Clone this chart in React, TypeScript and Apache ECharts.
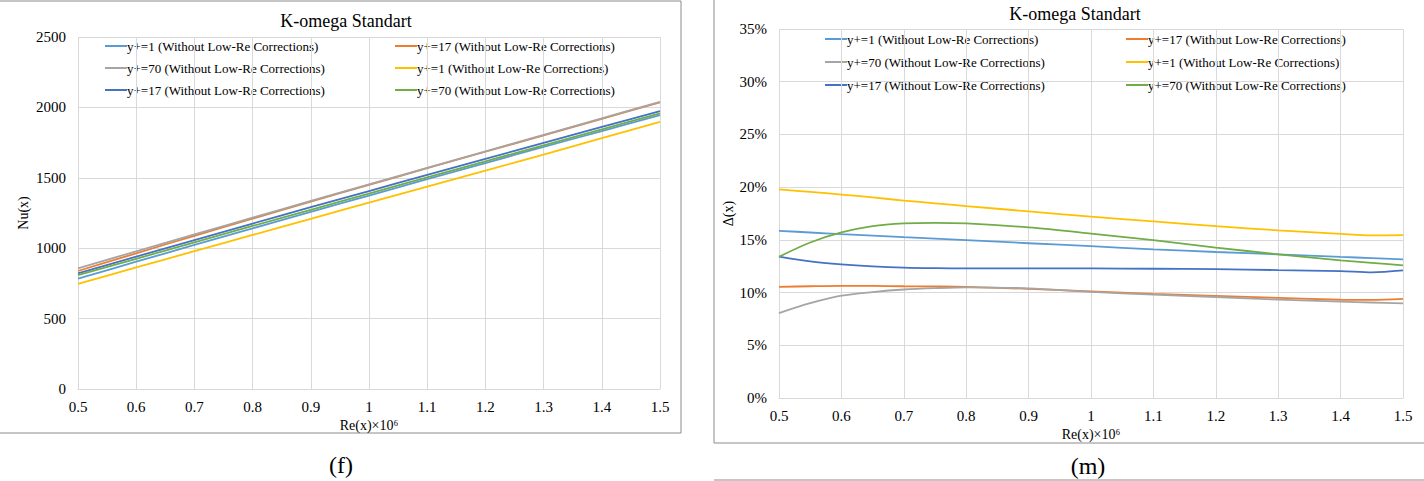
import React, { useEffect, useRef } from 'react';
import * as echarts from 'echarts';

// Re(x)×10^6 sample points
const reNu = [0.5, 0.6, 0.7, 0.8, 0.9, 1.0, 1.1, 1.2, 1.3, 1.4, 1.5];
const reDelta = [0.5, 0.55, 0.6, 0.65, 0.7, 0.75, 0.8, 0.9, 1.0, 1.1, 1.2, 1.3, 1.4, 1.45, 1.5];

const seriesNames = [
  'y+=1 (Without Low-Re Corrections)',
  'y+=17 (Without Low-Re Corrections)',
  'y+=70 (Without Low-Re Corrections)',
  'y+=1 (Without Low-Re Corrections)',
  'y+=17 (Without Low-Re Corrections)',
  'y+=70 (Without Low-Re Corrections)',
];
const seriesColors = ['#5B9BD5', '#ED7D31', '#A5A5A5', '#FFC000', '#4472C4', '#70AD47'];

// Nu(x)
const nuY1a = [784, 904, 1023, 1141, 1258, 1374, 1490, 1605, 1719, 1832, 1945];
const nuY17a = [838, 964, 1088, 1210, 1331, 1450, 1568, 1685, 1802, 1919, 2036];
const nuY70a = [857, 978, 1098, 1217, 1336, 1454, 1571, 1688, 1805, 1922, 2040];
const nuY1b = [746, 863, 979, 1094, 1209, 1323, 1437, 1551, 1665, 1782, 1898];
const nuY17b = [822, 940, 1058, 1175, 1291, 1406, 1521, 1635, 1748, 1861, 1974];
const nuY70b = [808, 925, 1042, 1158, 1273, 1388, 1503, 1617, 1731, 1844, 1957];

// Δ(x), %
const dY1a = [15.86, 15.7, 15.54, 15.4, 15.25, 15.11, 14.97, 14.68, 14.4, 14.1, 13.85, 13.63, 13.38, 13.27, 13.15];
const dY17a = [10.54, 10.6, 10.64, 10.63, 10.6, 10.58, 10.54, 10.35, 10.12, 9.87, 9.68, 9.5, 9.32, 9.3, 9.4];
const dY70a = [8.06, 9.0, 9.71, 10.05, 10.29, 10.42, 10.5, 10.4, 10.06, 9.8, 9.58, 9.33, 9.14, 9.06, 8.98];
const dY1b = [19.78, 19.55, 19.3, 19.02, 18.73, 18.47, 18.2, 17.7, 17.2, 16.75, 16.3, 15.9, 15.57, 15.42, 15.45];
const dY17b = [13.4, 12.95, 12.67, 12.48, 12.36, 12.31, 12.29, 12.29, 12.29, 12.26, 12.23, 12.13, 12.04, 11.92, 12.1];
const dY70b = [13.4, 14.75, 15.7, 16.3, 16.56, 16.62, 16.56, 16.18, 15.6, 14.97, 14.27, 13.63, 13.06, 12.82, 12.58];

const nuSeries = [nuY1a, nuY17a, nuY70a, nuY1b, nuY17b, nuY70b];
const deltaSeries = [dY1a, dY17a, dY70a, dY1b, dY17b, dY70b];

const FONT = 'Liberation Serif';
const GRID = '#d9d9d9';

const legendBlock = (cols: number[], rows: number[], lineLen: number) =>
  seriesNames.flatMap((name, i) => {
    const x = cols[i % 2];
    const y = rows[Math.floor(i / 2)];
    return [
      {
        type: 'line',
        shape: { x1: x, y1: y, x2: x + lineLen, y2: y },
        style: { stroke: seriesColors[i], lineWidth: 2 },
        silent: true,
      },
      {
        type: 'text',
        x: x + lineLen,
        y,
        style: {
          text: name,
          font: `13px ${FONT}`,
          fill: '#000',
          verticalAlign: 'middle',
        },
        silent: true,
      },
    ];
  });

const App: React.FC = () => {
  const chartRef = useRef<HTMLDivElement>(null);

  useEffect(() => {
    document.body.style.margin = '0';
    if (!chartRef.current) return;
    const chart = echarts.init(chartRef.current, null, { renderer: 'svg' });

    const xAxisCommon = (grid: number, labelMargin: number, nameGap: number) => ({
      type: 'value' as const,
      gridIndex: grid,
      min: 0.5,
      max: 1.5,
      interval: 0.1,
      name: 'Re(x)×10⁶',
      nameLocation: 'middle' as const,
      nameGap,
      nameTextStyle: { fontFamily: FONT, fontSize: 14, color: '#000' },
      axisLine: { show: true, lineStyle: { color: GRID, width: 1 } },
      axisTick: { show: false },
      axisLabel: { fontFamily: FONT, fontSize: 15, color: '#000', margin: labelMargin },
      splitLine: { show: true, lineStyle: { color: GRID, width: 1 } },
    });

    const option: echarts.EChartsOption = {
      animation: false,
      backgroundColor: '#fff',
      title: [
        {
          text: 'K-omega Standart',
          left: 341,
          top: 7,
          textAlign: 'center',
          textStyle: { fontFamily: FONT, fontSize: 18, fontWeight: 'normal', color: '#000' },
        },
        {
          text: 'K-omega Standart',
          left: 1070,
          top: 0,
          textAlign: 'center',
          textStyle: { fontFamily: FONT, fontSize: 18, fontWeight: 'normal', color: '#000' },
        },
      ],
      grid: [
        { left: 78, top: 37, width: 582, height: 352 },
        { left: 779, top: 29, width: 624, height: 369 },
      ],
      xAxis: [xAxisCommon(0, 10, 26), xAxisCommon(1, 10, 24)],
      yAxis: [
        {
          type: 'value',
          gridIndex: 0,
          min: 0,
          max: 2500,
          interval: 500,
          name: 'Nu(x)',
          nameLocation: 'middle',
          nameGap: 48,
          nameTextStyle: { fontFamily: FONT, fontSize: 14, color: '#000' },
          axisLine: { show: false },
          axisTick: { show: false },
          axisLabel: {
            fontFamily: FONT,
            fontSize: 15,
            color: '#000',
            margin: 12,
            formatter: (v: number) => String(v),
          },
          splitLine: { show: true, lineStyle: { color: GRID, width: 1 } },
        },
        {
          type: 'value',
          gridIndex: 1,
          min: 0,
          max: 35,
          interval: 5,
          name: 'Δ(x)',
          nameLocation: 'middle',
          nameGap: 32,
          nameTextStyle: { fontFamily: FONT, fontSize: 14, color: '#000' },
          axisLine: { show: false },
          axisTick: { show: false },
          axisLabel: { fontFamily: FONT, fontSize: 15, color: '#000', margin: 12, formatter: '{value}%' },
          splitLine: { show: true, lineStyle: { color: GRID, width: 1 } },
        },
      ],
      series: [
        ...nuSeries.map((vals, i) => ({
          name: seriesNames[i],
          type: 'line' as const,
          xAxisIndex: 0,
          yAxisIndex: 0,
          data: reNu.map((x, j) => [x, vals[j]]),
          showSymbol: false,
          smooth: 0.3,
          lineStyle: { color: seriesColors[i], width: 1.8 },
          itemStyle: { color: seriesColors[i] },
        })),
        ...deltaSeries.map((vals, i) => ({
          name: seriesNames[i],
          type: 'line' as const,
          xAxisIndex: 1,
          yAxisIndex: 1,
          data: reDelta.map((x, j) => [x, vals[j]]),
          showSymbol: false,
          smooth: 0.3,
          lineStyle: { color: seriesColors[i], width: 1.8 },
          itemStyle: { color: seriesColors[i] },
        })),
      ],
      graphic: [
        {
          type: 'rect',
          shape: { x: -2, y: 1, width: 683, height: 432 },
          style: { fill: 'none', stroke: '#8c8c8c', lineWidth: 1 },
          silent: true,
        },
        {
          type: 'rect',
          shape: { x: 714, y: -2, width: 720, height: 445 },
          style: { fill: 'none', stroke: '#8c8c8c', lineWidth: 1 },
          silent: true,
        },
        {
          type: 'line',
          shape: { x1: 714, y1: 480, x2: 1424, y2: 480 },
          style: { stroke: '#8c8c8c', lineWidth: 1 },
          silent: true,
        },
        {
          type: 'text',
          x: 341,
          y: 465,
          style: { text: '(f)', font: `24px ${FONT}`, fill: '#000', align: 'center', verticalAlign: 'middle' },
          silent: true,
        },
        {
          type: 'text',
          x: 1088,
          y: 466,
          style: { text: '(m)', font: `24px ${FONT}`, fill: '#000', align: 'center', verticalAlign: 'middle' },
          silent: true,
        },
        ...legendBlock([105, 395], [46, 68, 90], 22),
        ...legendBlock([825, 1126], [39, 62, 85], 22),
      ] as any,
    };

    chart.setOption(option);
    return () => {
      chart.dispose();
    };
  }, []);

  return <div ref={chartRef} style={{ width: 1424, height: 481 }} />;
};

export default App;
